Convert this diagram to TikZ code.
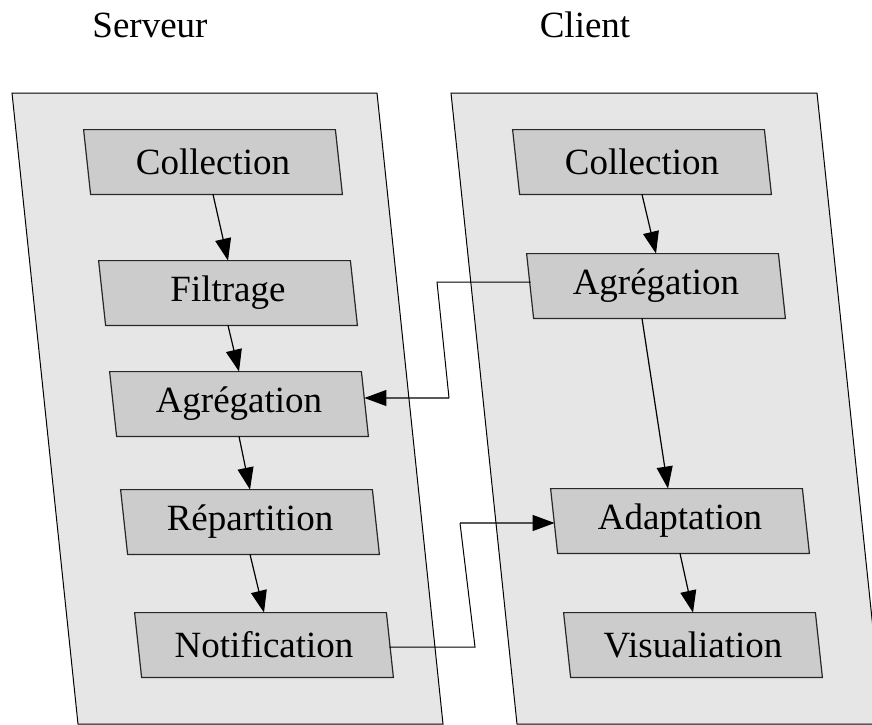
\documentclass[tikz,border=0pt]{standalone}
\usepackage{fontspec}
\setmainfont{Liberation Serif}
\usetikzlibrary{arrows.meta,backgrounds}
\definecolor{panelgray}{RGB}{230,230,230}
\definecolor{boxgray}{RGB}{204,204,204}
\definecolor{boxline}{RGB}{40,40,40}

\begin{document}
\begin{tikzpicture}[x=0.5bp, y=-0.5bp]
            \tikzstyle{panel} = [draw=black, line width=0.5bp, fill=panelgray]
            \tikzstyle{step box} = [rectangle, inner sep=0pt, minimum width=129bp, minimum height=32bp,
                font=\fontsize{18.5bp}{22bp}\selectfont]
            \tikzstyle{box shape} = [draw=boxline, line width=0.6bp, fill=boxgray]
            \tikzstyle{title} = [font=\fontsize{18.5bp}{22bp}\selectfont]
            \tikzstyle{flow} = [line width=0.6bp, -{Triangle[length=11bp, width=8bp]}]
            \tikzstyle{link} = [line width=0.5bp]
            \useasboundingbox (0,0) rectangle (872,725);
            \node[title] (serveur) at (150, 25) {Serveur};
            \node[title] (client) at (585, 25) {Client};
            % serveur
            \node[step box] (collS) at (213, 162) {Collection};
            \node[step box] (filtS) at (228, 293) {Filtrage};
            \node[step box] (agrS) at (239, 404) {Agrégation};
            \node[step box] (repS) at (250, 522) {Répartition};
            \node[step box] (notS) at (264, 645) {Notification};
            % client
            \node[step box] (collC) at (642, 162) {Collection};
            \node[step box] (agrC) at (656, 286) {Agrégation};
            \node[step box] (adaC) at (680, 521) {Adaptation};
            \node[step box] (visC) at (693, 645) {Visualiation};
            \begin{pgfonlayer}{background}
                \filldraw[panel] (12, 93) -- (377, 93) -- (443, 724) -- (78, 724) -- cycle;
                \filldraw[panel] (451, 93) -- (817, 93) -- (883, 724) -- (517, 724) -- cycle;
                \foreach \n in {collS, filtS, agrS, repS, notS, collC, agrC, adaC, visC}
                    \filldraw[box shape] (\n.north west) -- ([xshift=-3.5bp]\n.north east)
                        -- (\n.south east) -- ([xshift=3.5bp]\n.south west) -- cycle;
            \end{pgfonlayer}
            \draw[flow] (collS.south) -- (filtS.north);
            \draw[flow] (filtS.south) -- (agrS.north);
            \draw[flow] (agrS.south) -- (repS.north);
            \draw[flow] (repS.south) -- (notS.north);
            \draw[flow] (collC.south) -- (agrC.north);
            \draw[flow] ([xshift=-7bp]agrC.south) -- ([xshift=-6bp]adaC.north);
            \draw[flow] (adaC.south) -- (visC.north);
            \coordinate (k1) at (437, 282);
            \coordinate (k2) at (449, 398);
            \coordinate (k3) at (475, 647);
            \coordinate (k4) at (460, 523);
            \draw[link] ([xshift=2bp, yshift=2bp]agrC.west) -- (k1) -- (k2);
            \draw[flow] (k2) -- ([xshift=-2bp, yshift=3bp]agrS.east);
            \draw[link] ([xshift=-2bp, yshift=-1bp]notS.east) -- (k3) -- (k4);
            \draw[flow] (k4) -- ([xshift=2bp, yshift=-1bp]adaC.west);
        \end{tikzpicture}
\end{document}
